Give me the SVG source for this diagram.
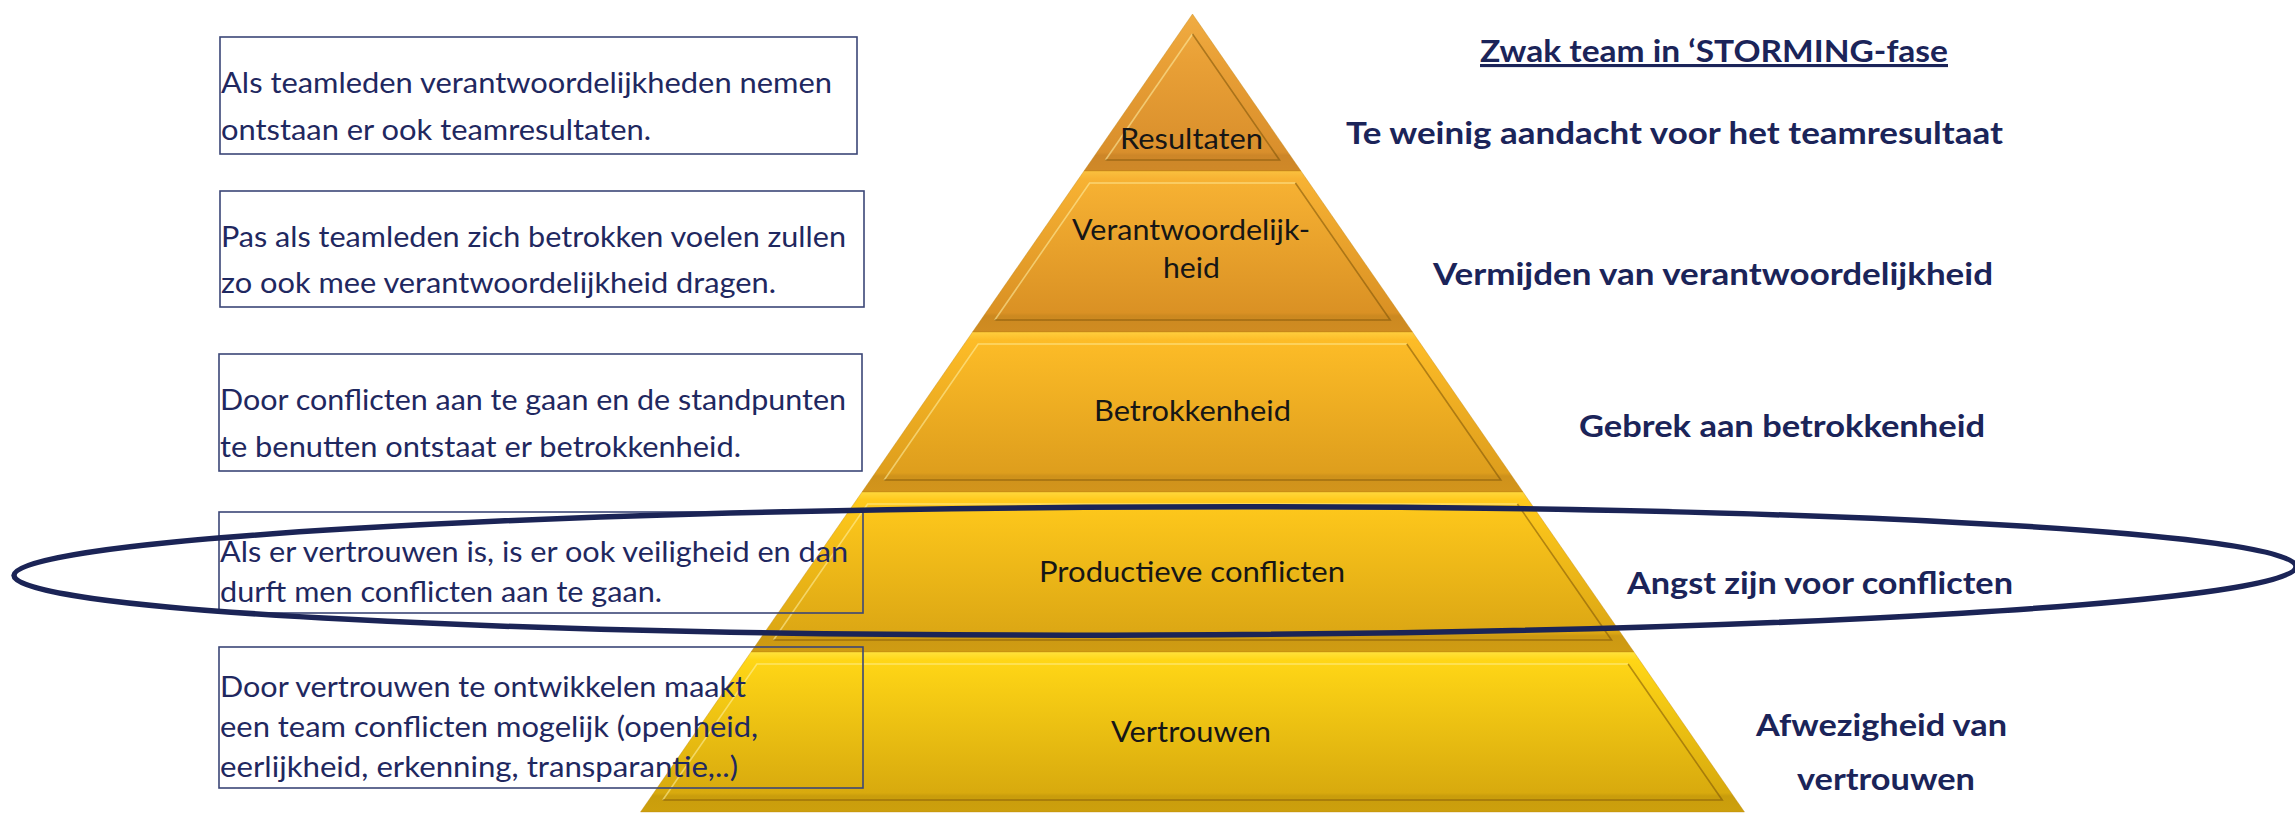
<svg xmlns="http://www.w3.org/2000/svg" width="2295" height="815" viewBox="0 0 2295 815">
<defs>
<linearGradient id="g1" x1="0" y1="0" x2="0" y2="1">
<stop offset="0" stop-color="#F0AC42"/><stop offset="0.3" stop-color="#E9A036"/><stop offset="0.88" stop-color="#D98F2C"/><stop offset="0.9" stop-color="#CD8628"/><stop offset="1" stop-color="#D08928"/>
</linearGradient>
<linearGradient id="g2" x1="0" y1="0" x2="0" y2="1">
<stop offset="0" stop-color="#FAC03E"/><stop offset="0.05" stop-color="#F7B233"/><stop offset="0.88" stop-color="#DA9124"/><stop offset="0.9" stop-color="#CC8920"/><stop offset="1" stop-color="#D08C22"/>
</linearGradient>
<linearGradient id="g3" x1="0" y1="0" x2="0" y2="1">
<stop offset="0" stop-color="#FFCE3E"/><stop offset="0.05" stop-color="#FDBC27"/><stop offset="0.88" stop-color="#DE9E1D"/><stop offset="0.9" stop-color="#CF921B"/><stop offset="1" stop-color="#D3951C"/>
</linearGradient>
<linearGradient id="g4" x1="0" y1="0" x2="0" y2="1">
<stop offset="0" stop-color="#FFD83C"/><stop offset="0.05" stop-color="#FFC91C"/><stop offset="0.88" stop-color="#DCA714"/><stop offset="0.9" stop-color="#CC9912"/><stop offset="1" stop-color="#D09C13"/>
</linearGradient>
<linearGradient id="g5" x1="0" y1="0" x2="0" y2="1">
<stop offset="0" stop-color="#FFE23C"/><stop offset="0.05" stop-color="#FFD616"/><stop offset="0.88" stop-color="#D8AA0E"/><stop offset="0.9" stop-color="#C99D0C"/><stop offset="1" stop-color="#CDA00D"/>
</linearGradient>
<style>
.dark{fill:none;stroke:#7A5208;stroke-opacity:0.55;stroke-width:1.6}
.light{fill:none;stroke:#FFF3A8;stroke-opacity:0.55;stroke-width:1.6}
.edge{stroke:#B9820F;stroke-opacity:0.35;stroke-width:1}
.lbl{font-family:Lato,"Liberation Sans",sans-serif;font-size:29px;fill:#161616}
.box{fill:none;stroke:#3B4677;stroke-width:1.6}
.bt{font-family:Lato,"Liberation Sans",sans-serif;font-size:28px;fill:#1F2860}
.rt{font-family:Lato,"Liberation Sans",sans-serif;font-size:31px;font-weight:bold;fill:#1B2459}
</style>
</defs>
<rect x="0" y="0" width="2295" height="815" fill="#FFFFFF"/>

<g id="layer-resultaten">
<polygon points="1192.5,14 1301,171 1084,171" fill="url(#g1)" class="edge"/>
<path class="light" d="M1105.5,160 L1192.5,34"/>
<path class="dark" d="M1192.5,34 L1279.5,160 L1105.5,160"/>
<text class="lbl" x="1120" y="149" textLength="143" lengthAdjust="spacingAndGlyphs">Resultaten</text>
</g>

<g id="layer-verantwoordelijkheid">
<polygon points="1084,171 1301,171 1412.5,332 972.5,332" fill="url(#g2)" class="edge"/>
<path class="light" d="M994.8,320 L1089.6,183 L1295.4,183"/>
<path class="dark" d="M1295.4,183 L1390.2,320 L994.8,320"/>
<text class="lbl" x="1072" y="240" textLength="238" lengthAdjust="spacingAndGlyphs">Verantwoordelijk-</text>
<text class="lbl" x="1163" y="278" textLength="57" lengthAdjust="spacingAndGlyphs">heid</text>
</g>

<g id="layer-betrokkenheid">
<polygon points="972.5,332 1412.5,332 1523,492 862,492" fill="url(#g3)" class="edge"/>
<path class="light" d="M884.2,480 L978.2,344 L1406.8,344"/>
<path class="dark" d="M1406.8,344 L1500.8,480 L884.2,480"/>
<text class="lbl" x="1094" y="421" textLength="197" lengthAdjust="spacingAndGlyphs">Betrokkenheid</text>
</g>

<g id="layer-productieve-conflicten">
<polygon points="862,492 1523,492 1634,652 751,652" fill="url(#g4)" class="edge"/>
<path class="light" d="M773.5,640 L867.6,504 L1517.4,504"/>
<path class="dark" d="M1517.4,504 L1611.5,640 L773.5,640"/>
<text class="lbl" x="1039" y="582" textLength="306" lengthAdjust="spacingAndGlyphs">Productieve conflicten</text>
</g>

<g id="layer-vertrouwen">
<polygon points="751,652 1634,652 1744.5,812 640.5,812" fill="url(#g5)" class="edge"/>
<path class="light" d="M662.8,800 L756.9,664 L1628.1,664"/>
<path class="dark" d="M1628.1,664 L1722.2,800 L662.8,800"/>
<text class="lbl" x="1111" y="742" textLength="160" lengthAdjust="spacingAndGlyphs">Vertrouwen</text>
</g>

<g id="box-resultaten">
<rect class="box" x="220" y="37" width="637" height="117"/>
<text class="bt" x="221" y="93" textLength="611" lengthAdjust="spacingAndGlyphs">Als teamleden verantwoordelijkheden nemen</text>
<text class="bt" x="221" y="140" textLength="430" lengthAdjust="spacingAndGlyphs">ontstaan er ook teamresultaten.</text>
</g>

<g id="box-verantwoordelijkheid">
<rect class="box" x="220" y="191" width="644" height="116"/>
<text class="bt" x="221" y="247" textLength="625" lengthAdjust="spacingAndGlyphs">Pas als teamleden zich betrokken voelen zullen</text>
<text class="bt" x="221" y="293" textLength="555" lengthAdjust="spacingAndGlyphs">zo ook mee verantwoordelijkheid dragen.</text>
</g>

<g id="box-betrokkenheid">
<rect class="box" x="219" y="354" width="643" height="117"/>
<text class="bt" x="220" y="410" textLength="626" lengthAdjust="spacingAndGlyphs">Door conflicten aan te gaan en de standpunten</text>
<text class="bt" x="220" y="457" textLength="521" lengthAdjust="spacingAndGlyphs">te benutten ontstaat er betrokkenheid.</text>
</g>

<g id="box-conflicten">
<rect class="box" x="219" y="512" width="644" height="101"/>
<text class="bt" x="220" y="562" textLength="628" lengthAdjust="spacingAndGlyphs">Als er vertrouwen is, is er ook veiligheid en dan</text>
<text class="bt" x="220" y="602" textLength="442" lengthAdjust="spacingAndGlyphs">durft men conflicten aan te gaan.</text>
</g>

<g id="box-vertrouwen">
<rect class="box" x="219" y="647" width="644" height="141"/>
<text class="bt" x="220" y="697" textLength="526" lengthAdjust="spacingAndGlyphs">Door vertrouwen te ontwikkelen maakt</text>
<text class="bt" x="220" y="737" textLength="538" lengthAdjust="spacingAndGlyphs">een team conflicten mogelijk (openheid,</text>
<text class="bt" x="220" y="777" textLength="518" lengthAdjust="spacingAndGlyphs">eerlijkheid, erkenning, transparantie,..)</text>
</g>

<g id="right-labels">
<text class="rt" x="1480" y="62" font-size="30" textLength="468" lengthAdjust="spacingAndGlyphs" text-decoration="underline">Zwak team in ‘STORMING-fase</text>
<text class="rt" x="1346" y="144" textLength="657" lengthAdjust="spacingAndGlyphs">Te weinig aandacht voor het teamresultaat</text>
<text class="rt" x="1433" y="285" textLength="560" lengthAdjust="spacingAndGlyphs">Vermijden van verantwoordelijkheid</text>
<text class="rt" x="1579" y="437" textLength="406" lengthAdjust="spacingAndGlyphs">Gebrek aan betrokkenheid</text>
<text class="rt" x="1627" y="594" textLength="386" lengthAdjust="spacingAndGlyphs">Angst zijn voor conflicten</text>
<text class="rt" x="1756" y="736" textLength="251" lengthAdjust="spacingAndGlyphs">Afwezigheid van</text>
<text class="rt" x="1797" y="790" textLength="178" lengthAdjust="spacingAndGlyphs">vertrouwen</text>
</g>

<g id="highlight-ellipse">
<ellipse cx="1155" cy="571" rx="1141" ry="64" fill="none" stroke="#1B2456" stroke-width="5.5" transform="rotate(-0.22 1155 571)"/>
</g>
</svg>
